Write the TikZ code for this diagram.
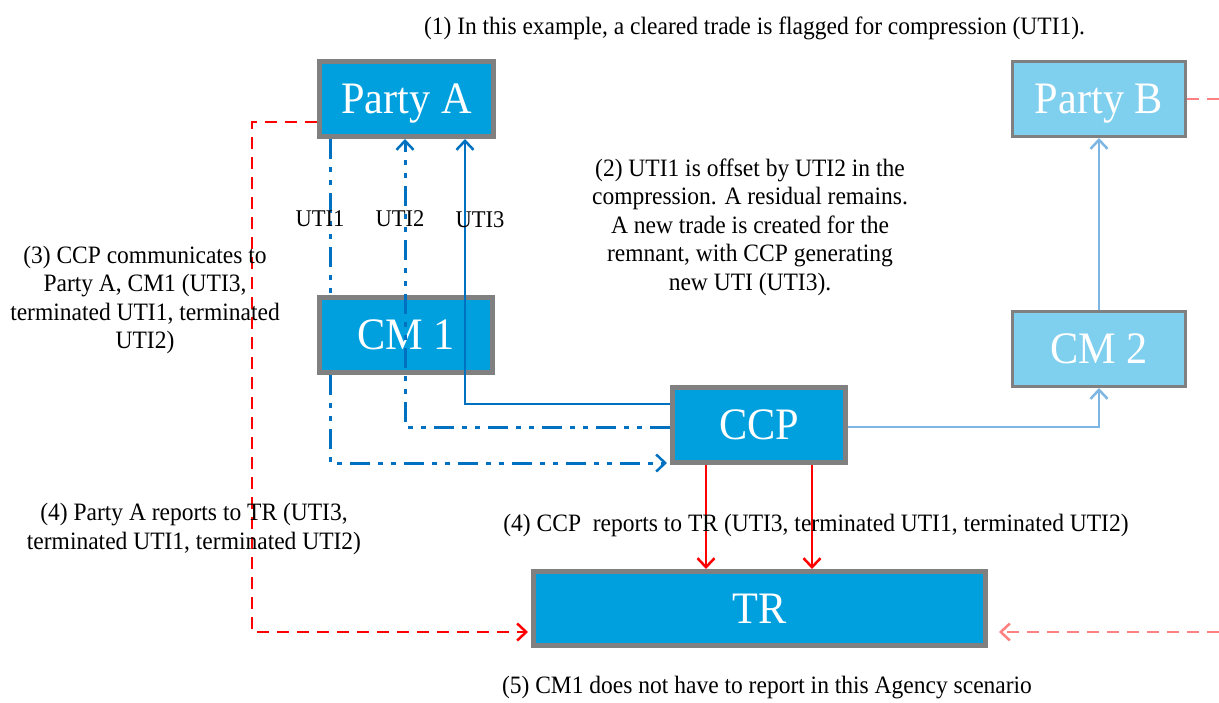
\documentclass[tikz,border=0pt]{standalone}
\usepackage{fontspec}
\setmainfont[FakeStretch=0.94]{Liberation Serif}
\usetikzlibrary{arrows.meta,calc}
\definecolor{boxdark}{RGB}{0,160,222}
\definecolor{boxlight}{RGB}{127,207,238}
\definecolor{bordergray}{RGB}{128,128,128}
\definecolor{linkdark}{RGB}{0,112,192}
\definecolor{linklight}{RGB}{125,182,226}
\definecolor{pinkred}{RGB}{255,128,128}
\tikzset{
  darkbox/.style={draw=bordergray, line width=5pt, fill=boxdark, text=white, font=\fontsize{45}{48}\selectfont, inner sep=0pt, text depth=0pt},
  lightbox/.style={draw=bordergray, line width=3pt, fill=boxlight, text=white, font=\fontsize{45}{48}\selectfont, inner sep=0pt, text depth=0pt},
  note/.style={align=center, font=\fontsize{25}{28.5}\selectfont, inner sep=0pt},
  utilabel/.style={font=\fontsize{24}{28}\selectfont, inner sep=0pt},
  tip/.style={-{Straight Barb[length=9pt,width=17pt,line width=2.5pt]}},
  dashdotdot/.style={linkdark, line width=3pt, dash pattern=on 20pt off 8pt on 5pt off 8pt on 5pt off 8pt},
  solidlink/.style={linkdark, line width=2.5pt},
  lightlink/.style={linklight, line width=2.5pt},
  reddash/.style={red, line width=2.5pt, dash pattern=on 12pt off 8pt},
  pinkdash/.style={pinkred, line width=2.5pt, dash pattern=on 12pt off 8pt},
  redlink/.style={red, line width=2pt},
}
\begin{document}
\begin{tikzpicture}[x=1pt,y=-1pt]
\useasboundingbox (0,0) rectangle (1219,702);
% coordinates for vertical lanes
\coordinate (x1) at (330,0);
\coordinate (x2) at (405,0);
\coordinate (x3) at (465,0);
\coordinate (xl) at (252,0);
\coordinate (xr) at (1219,0);
\coordinate (yu1) at (0,463);
\coordinate (yu2) at (0,427);
\coordinate (yu3) at (0,404);
\coordinate (ypa) at (0,122);
\coordinate (ytr) at (0,632);
\coordinate (xc1) at (706,0);
\coordinate (xc2) at (812,0);

% nodes
\node[darkbox, minimum width=174pt, minimum height=75pt] (pa) at (406.5,99) {Party A};
\node[lightbox, minimum width=173pt, minimum height=75pt] (pb) at (1099,99) {Party B};
\node[darkbox, minimum width=173pt, minimum height=75pt] (cm1) at (406,335) {CM 1};
\node[lightbox, minimum width=173pt, minimum height=75pt] (cm2) at (1099,349) {CM 2};
\node[darkbox, minimum width=173pt, minimum height=75pt] (ccp) at (759,425) {CCP};
\node[darkbox, minimum width=452pt, minimum height=74pt] (tr) at (759.5,608.5) {TR};

% UTI1: Party A -> CM1 -> CCP
\draw[dashdotdot] (pa.south -| x1) -- (cm1.north -| x1);
\draw[dashdotdot, tip] (cm1.south -| x1) -- (x1 |- yu1) -- ([xshift=-3pt]ccp.west |- yu1);
% UTI2: CCP -> Party A
\draw[dashdotdot, tip] (ccp.west |- yu2) -- (x2 |- yu2) -- (pa.south -| x2);
% UTI3: CCP -> Party A
\draw[solidlink, tip] (ccp.west |- yu3) -- (x3 |- yu3) -- (pa.south -| x3);
% CCP -> CM2 -> Party B
\draw[lightlink, tip] (ccp.east |- yu2) -| (cm2.south);
\draw[lightlink, tip] (cm2.north) -- (pb.south);
% Party B outgoing pink dashed
\draw[pinkdash] (pb.east) -- (pb.east -| xr);
% incoming pink dashed to TR
\draw[pinkdash, tip] (xr |- ytr) -- ([xshift=11pt]tr.east |- ytr);
% Party A reports to TR
\draw[reddash, tip] (pa.west |- ypa) -- (xl |- ypa) -- (xl |- ytr) -- ([xshift=-3pt]tr.west |- ytr);
% CCP reports to TR
\draw[redlink, tip] (ccp.south -| xc1) -- (tr.north -| xc1);
\draw[redlink, tip] (ccp.south -| xc2) -- (tr.north -| xc2);

% labels
\node[utilabel] (l1) at (320,219) {UTI1};
\node[utilabel] (l2) at (400,219) {UTI2};
\node[utilabel] (l3) at (480,220) {UTI3};

\node[note] (n1) at (754.5,28) {(1) In this example, a cleared trade is flagged for compression (UTI1).};
\node[note] (n2) at (750,227) {(2) UTI1 is offset by UTI2 in the\\compression. A residual remains.\\A new trade is created for the\\remnant, with CCP generating\\new UTI (UTI3).};
\node[note] (n3) at (145,300) {(3) CCP communicates to\\Party A, CM1 (UTI3,\\terminated UTI1, terminated\\UTI2)};
\node[note] (n4a) at (194,529) {(4) Party A reports to TR (UTI3,\\terminated UTI1, terminated UTI2)};
\node[note] (n4b) at (816,525) {(4) CCP~ reports to TR (UTI3, terminated UTI1, terminated UTI2)};
\node[note] (n5) at (767,688) {(5) CM1 does not have to report in this Agency scenario};
\end{tikzpicture}
\end{document}
